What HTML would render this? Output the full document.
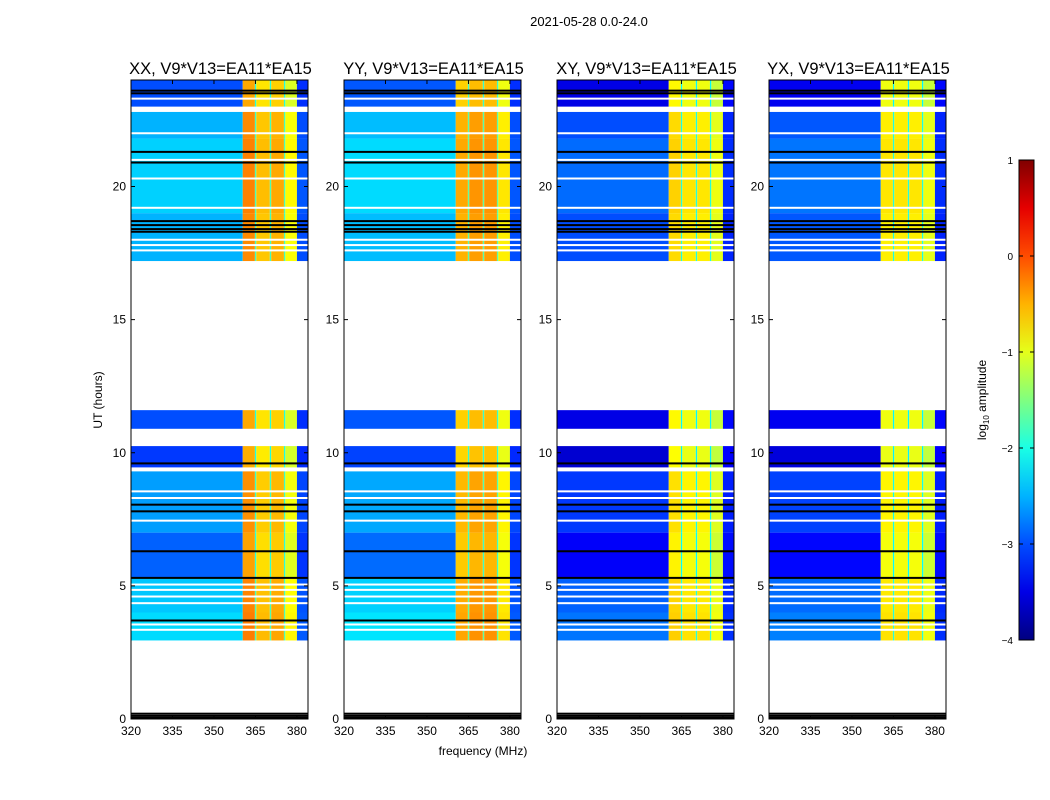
<!DOCTYPE html>
<html><head><meta charset="utf-8"><style>
body{margin:0;background:#fff;}
svg{display:block;font-family:"Liberation Sans",sans-serif;}
</style></head><body>
<svg id="fig" width="1050" height="800"></svg>
<script>
// ---- data ----
const panelTitles=["XX, V9*V13=EA11*EA15","YY, V9*V13=EA11*EA15","XY, V9*V13=EA11*EA15","YX, V9*V13=EA11*EA15"];
const panelLeft=[131,344,557,769];
const segStart=[2.95,4.0,5.3,7.0,9.45,10.9,17.2,19.0,21.8,23.0];
const segEnd  =[4.0,5.3,7.0,9.3,10.25,11.6,19.0,21.8,22.8,24.0];
const segLevel=[-2.3,-2.4,-2.9,-2.6,-3.1,-3.0,-2.5,-2.35,-2.5,-3.0];
const panelOffset=[0,0.05,-0.5,-0.45];
const bandStart=[360.4,364.8,365.3,370.2,370.7,375.3,375.8,380.0];
const bandEnd  =[364.8,365.3,370.2,370.7,375.3,375.8,380.0,384.0];
const bandXX=[-0.3,-1.8,-0.6,-1.8,-0.5,-1.8,-0.9,-3.0];
const bandYY=[-0.5,-1.7,-0.4,-1.7,-0.4,-1.7,-0.8,-3.0];
const bandXY=[-0.7,-2.0,-0.8,-2.0,-0.8,-2.0,-1.0,-3.2];
const bandYX=[-0.8,-2.0,-0.8,-2.0,-0.8,-2.0,-1.0,-3.2];
const bandLevels=[bandXX,bandYY,bandXY,bandYX];
const whiteLines=[3.35,3.55,4.35,4.6,4.85,5.05,7.45,8.3,8.55,17.6,17.8,18.0,19.2,20.3,21.0,22.0,23.3];
const blackLines=[0.05,0.12,0.2,3.7,5.3,6.3,7.8,8.05,9.6,18.3,18.4,18.55,18.7,20.9,21.3,23.5,23.6];
const yTicks=[0,5,10,15,20];
const xTicks=[320,335,350,365,380];
const cbTicks=[1,0,-1,-2,-3,-4];

// ---- helpers ----
const NS="http://www.w3.org/2000/svg";
const svg=document.getElementById('fig');
function mk(tag,attrs,parent){const e=document.createElementNS(NS,tag);for(const k in attrs)e.setAttribute(k,attrs[k]);(parent||svg).appendChild(e);return e;}
function jet(v){v=Math.max(0,Math.min(1,v));
 const r=Math.max(0,Math.min(1,1.5-Math.abs(4*v-3))),g=Math.max(0,Math.min(1,1.5-Math.abs(4*v-2))),b=Math.max(0,Math.min(1,1.5-Math.abs(4*v-1)));
 return `rgb(${Math.round(r*255)},${Math.round(g*255)},${Math.round(b*255)})`;}
function col(val){return jet((val+4)/5);}
const PW=177, TOP=80, BOT=719;
const yS=h=>BOT-(h/24)*(BOT-TOP);
function xS(p,f){return panelLeft[p]+(f-320)/(384-320)*PW;}

const t=mk('text',{x:589,y:26,'font-size':13,'text-anchor':'middle'});t.textContent="2021-05-28 0.0-24.0";


for(let p=0;p<4;p++){
 const g=mk('g',{});
 
 
 const L=panelLeft[p];
 for(let i=0;i<segStart.length;i++){
  const y1=yS(segEnd[i]),y2=yS(segStart[i]);
  const bg=segLevel[i]+panelOffset[p];
  const r=mk('rect',{x:L,y:y1,width:xS(p,360.4)-L,height:y2-y1,fill:col(bg)},g);
  
  
  for(let b=0;b<bandStart.length;b++){
   const v=bandLevels[p][b]+0.3*(segLevel[i]+2.5);
   const rb=mk('rect',{x:xS(p,bandStart[b]),y:y1,width:xS(p,bandEnd[b])-xS(p,bandStart[b]),height:y2-y1,fill:col(v)},g);
   
   
  }
 }
 whiteLines.forEach(h=>{const l=mk('rect',{x:L,y:yS(h)-1,width:PW,height:2,fill:'#fff'},g);
  });
 blackLines.forEach(h=>{const l=mk('rect',{x:L,y:yS(h)-1,width:PW,height:2,fill:'#000'},g);
  });
 const fr=mk('rect',{x:L,y:TOP,width:PW,height:BOT-TOP,fill:'none',stroke:'#000','stroke-width':1},g);
 
 yTicks.forEach(h=>{const y=yS(h);
  mk('line',{x1:L,x2:L+4,y1:y,y2:y,stroke:'#000'},g);mk('line',{x1:L+PW-4,x2:L+PW,y1:y,y2:y,stroke:'#000'},g);
  const tx=mk('text',{x:L-5,y:y+4,'font-size':12,'text-anchor':'end'},g);tx.textContent=h;
  });
 xTicks.forEach(f=>{const x=xS(p,f);
  mk('line',{x1:x,x2:x,y1:BOT,y2:BOT-4,stroke:'#000'},g);mk('line',{x1:x,x2:x,y1:TOP,y2:TOP+4,stroke:'#000'},g);
  const tx=mk('text',{x:x,y:BOT+16,'font-size':12,'text-anchor':'middle'},g);tx.textContent=f;
  });
 const tt=mk('text',{x:L+PW/2+1,y:74,'font-size':16.5,'text-anchor':'middle'},g);tt.textContent=panelTitles[p];
 
}
const yl=mk('text',{x:0,y:0,'font-size':12,'text-anchor':'middle',transform:'translate(102,400) rotate(-90)'});
yl.textContent="UT (hours)";
const xl=mk('text',{x:483,y:755,'font-size':12,'text-anchor':'middle'});
xl.textContent="frequency (MHz)";

// colorbar
const defs=mk('defs',{});const lg=mk('linearGradient',{id:'jetg',x1:0,y1:1,x2:0,y2:0},defs);
for(let i=0;i<=10;i++)mk('stop',{offset:i/10,'stop-color':jet(i/10)},lg);
const cb=mk('rect',{x:1019,y:160,width:15,height:480,fill:'url(#jetg)',stroke:'#000'});

cbTicks.forEach(v=>{const y=160+(1-v)/5*480;
 mk('line',{x1:1019,x2:1023,y1:y,y2:y,stroke:'#000'});mk('line',{x1:1030,x2:1034,y1:y,y2:y,stroke:'#000'});
 const tx=mk('text',{x:1013,y:y+4,'font-size':10,'text-anchor':'end'});tx.textContent=v<0?'\u2212'+(-v):v;
 });
const cl=mk('text',{x:0,y:0,'font-size':12,'text-anchor':'middle',transform:'translate(986,400) rotate(-90)'});
cl.innerHTML='log<tspan font-size="8" dy="3">10</tspan><tspan dy="-3"> amplitude</tspan>';

</script>
</body></html>
